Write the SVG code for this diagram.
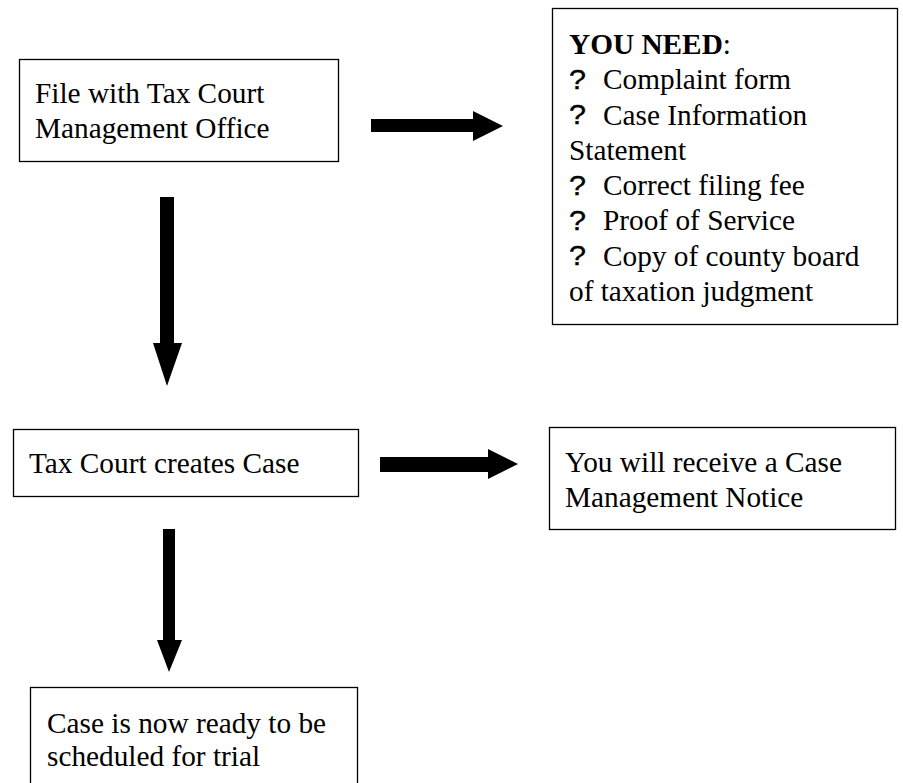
<svg xmlns="http://www.w3.org/2000/svg" width="903" height="783" viewBox="0 0 903 783">
<style>
  .box { fill: #ffffff; stroke: #000000; stroke-width: 1.3; }
  .t { font-family: "Liberation Serif", "Times New Roman", serif; font-size: 29.3px; fill: #000000; }
  .b { font-weight: bold; }
  .q { font-family: "Liberation Sans", Arial, sans-serif; font-size: 28px; fill: #000000; stroke: #000000; stroke-width: 0.4; }
  .arrow { fill: #000000; stroke: none; }
</style>
<rect x="0" y="0" width="903" height="783" fill="#ffffff"/>
<g id="connectors">
  <polygon class="arrow" points="371,119 473,119 473,111 503,126 473,141 473,132 371,132"/>
  <polygon class="arrow" points="160,197 174,197 174,343 182,343 167,386 153,343 160,343"/>
  <polygon class="arrow" points="380,457 488,457 488,449 518,464 488,479 488,472 380,472"/>
  <polygon class="arrow" points="163,529 175,529 175,640 182,640 169,672 157,640 163,640"/>
</g>
<g id="node-file">
  <rect class="box" x="19.5" y="59.5" width="319" height="102"/>
  <text class="t" x="35" y="103">File with Tax Court</text>
  <text class="t" x="35" y="138">Management Office</text>
</g>
<g id="node-need">
  <rect class="box" x="552.5" y="8.5" width="345" height="316"/>
  <text class="t" x="569" y="54"><tspan class="b">YOU NEED</tspan>:</text>
  <text class="q" x="569" y="88.5" textLength="17" lengthAdjust="spacingAndGlyphs">?</text>
  <text class="t" x="603" y="89">Complaint form</text>
  <text class="q" x="569" y="124" textLength="17" lengthAdjust="spacingAndGlyphs">?</text>
  <text class="t" x="603" y="124.5">Case Information</text>
  <text class="t" x="569" y="160">Statement</text>
  <text class="q" x="569" y="194.5" textLength="17" lengthAdjust="spacingAndGlyphs">?</text>
  <text class="t" x="603" y="195">Correct filing fee</text>
  <text class="q" x="569" y="229.5" textLength="17" lengthAdjust="spacingAndGlyphs">?</text>
  <text class="t" x="603" y="230">Proof of Service</text>
  <text class="q" x="569" y="265" textLength="17" lengthAdjust="spacingAndGlyphs">?</text>
  <text class="t" x="603" y="265.5">Copy of county board</text>
  <text class="t" x="569" y="300.5">of taxation judgment</text>
</g>
<g id="node-create">
  <rect class="box" x="13.5" y="429.5" width="345" height="67"/>
  <text class="t" x="29" y="473">Tax Court creates Case</text>
</g>
<g id="node-notice">
  <rect class="box" x="549.5" y="427.5" width="346" height="102"/>
  <text class="t" x="565" y="472">You will receive a Case</text>
  <text class="t" x="565" y="507">Management Notice</text>
</g>
<g id="node-ready">
  <rect class="box" x="30.5" y="687.5" width="327" height="120"/>
  <text class="t" x="47" y="733">Case is now ready to be</text>
  <text class="t" x="47" y="766">scheduled for trial</text>
</g>
</svg>
